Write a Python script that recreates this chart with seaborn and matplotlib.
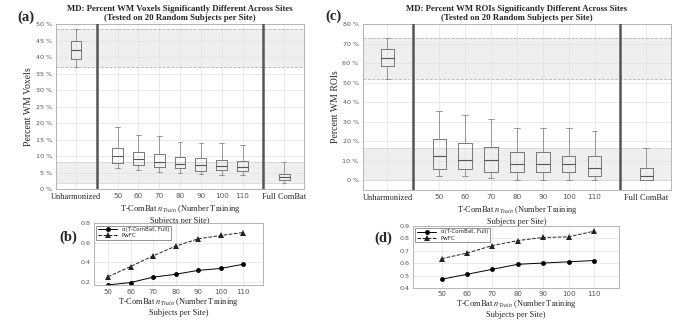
import matplotlib
matplotlib.use('Agg')
import matplotlib.pyplot as plt
import numpy as np
import seaborn as sns

# ---- data ----
groups = ['Unharmonized', '50', '60', '70', '80', '90', '100', '110', 'Full ComBat']
n_train = [50, 60, 70, 80, 90, 100, 110]

# (a) percent WM voxels: whisker low, q1, median, q3, whisker high
vox_lo = [37.0, 6.4, 5.9, 5.2, 4.9, 4.6, 4.4, 4.3, 1.9]
vox_q1 = [39.5, 8.0, 7.4, 6.7, 6.3, 5.6, 5.9, 5.4, 2.8]
vox_med = [42.0, 10.0, 9.1, 8.3, 7.6, 7.4, 7.0, 6.8, 3.6]
vox_q3 = [44.8, 12.4, 11.2, 10.6, 9.6, 9.3, 8.8, 8.4, 4.5]
vox_hi = [48.5, 18.8, 16.3, 16.0, 14.2, 14.0, 13.9, 13.3, 8.1]

# (c) percent WM ROIs
roi_lo = [52.0, 2.0, 2.0, 1.0, 0.0, 0.0, 0.0, 0.0, 0.0]
roi_q1 = [58.5, 6.0, 6.0, 4.0, 4.0, 4.0, 4.0, 2.0, 0.0]
roi_med = [62.5, 12.5, 10.5, 10.5, 8.5, 8.5, 8.5, 6.5, 2.0]
roi_q3 = [67.0, 21.0, 19.0, 17.0, 14.5, 14.5, 12.5, 12.5, 6.3]
roi_hi = [73.0, 35.5, 33.5, 31.5, 27.0, 27.0, 27.0, 25.0, 16.5]

# (b), (d) line panels
alpha_vox = [0.165, 0.19, 0.245, 0.275, 0.315, 0.335, 0.378]
pwfc_vox = [0.25, 0.355, 0.465, 0.565, 0.64, 0.675, 0.705]
alpha_roi = [0.47, 0.51, 0.55, 0.59, 0.60, 0.61, 0.62]
pwfc_roi = [0.635, 0.68, 0.74, 0.78, 0.805, 0.81, 0.855]

sns.set_style('whitegrid')
plt.rcParams['font.family'] = ['DejaVu Sans']
plt.rcParams['mathtext.fontset'] = 'stix'

SERIF = 'Liberation Serif'
TICK_C = '#555555'
GRID_C = '#e2e2e2'
SPINE_C = '#aaaaaa'

fig = plt.figure(figsize=(6.77, 3.2), dpi=100)


def style_axes(ax, pad=1.5):
    ax.grid(True, color=GRID_C, linewidth=0.5)
    for s in ax.spines.values():
        s.set_color(SPINE_C)
        s.set_linewidth(0.6)
    ax.tick_params(axis='both', labelsize=4.6, colors=TICK_C, length=1.5,
                   width=0.4, pad=pad)


def box_panel(ax, lo, q1, med, q3, hi, ylim, yticks, ylabel, title):
    pos = [0] + [2 + i for i in range(len(n_train))] + [10]
    stats = []
    for i in range(len(groups)):
        stats.append(dict(whislo=lo[i], q1=q1[i], med=med[i], q3=q3[i],
                          whishi=hi[i], fliers=[], label=groups[i]))
    # reference bands (unharmonized / full combat whisker ranges)
    ax.axhspan(lo[0], hi[0], color='#efefef', zorder=0.5, lw=0)
    ax.axhspan(lo[-1], hi[-1], color='#efefef', zorder=0.5, lw=0)
    for v in (lo[0], hi[0]):
        ax.axhline(v, color='#b5b5b5', ls='--', lw=0.6, zorder=0.6)
    for v in (lo[-1], hi[-1]):
        ax.axhline(v, color='#cfcfcf', ls='-', lw=0.5, zorder=0.6)
    ax.bxp(stats, positions=pos, widths=0.52, showfliers=False,
           boxprops=dict(color='#777777', linewidth=0.7),
           whiskerprops=dict(color='#888888', linewidth=0.6),
           capprops=dict(color='#888888', linewidth=0.6),
           medianprops=dict(color='#555555', linewidth=0.8),
           capwidths=0.22, manage_ticks=False)
    ax.axvline(1, color='#555555', lw=1.8, zorder=3)
    ax.axvline(9, color='#555555', lw=1.8, zorder=3)
    ax.set_xlim(-0.95, 10.95)
    ax.set_xticks(range(0, 11))
    ax.set_xticklabels([''] * 11)
    ax.set_ylim(*ylim)
    ax.set_yticks(yticks)
    ax.set_yticklabels([f'{t} %' for t in yticks])
    style_axes(ax)
    for p, g in zip(pos, groups):
        if g.isdigit():
            ax.text(p, -0.025, g, transform=ax.get_xaxis_transform(),
                    ha='center', va='top', fontsize=5.2, color=TICK_C)
        else:
            ax.text(p, -0.025, g, transform=ax.get_xaxis_transform(),
                    ha='center', va='top', fontsize=6, family=SERIF)
    ax.text(5, -0.085, 'T-ComBat $n_{Train}$ (Number Training\nSubjects per Site)',
            transform=ax.get_xaxis_transform(), ha='center', va='top',
            fontsize=6, family=SERIF, linespacing=1.25)
    ax.set_ylabel(ylabel, family=SERIF, fontsize=7, labelpad=2)
    ax.set_title(title, family=SERIF, fontsize=6.3, fontweight='bold',
                 pad=3, linespacing=1.2)


def line_panel(ax, alpha_vals, pwfc_vals, xlim, ylim, yticks):
    sns.lineplot(x=n_train, y=alpha_vals, ax=ax, color='black', marker='o',
                 markersize=3.5, linewidth=0.7, markeredgewidth=0,
                 label='α(T-ComBat, Full)')
    sns.lineplot(x=n_train, y=pwfc_vals, ax=ax, color='#222222', marker='^',
                 markersize=3.8, linewidth=0.7, markeredgewidth=0,
                 linestyle='--', label='PwFC')
    ax.set_xlim(*xlim)
    ax.set_ylim(*ylim)
    ax.set_xticks(n_train)
    ax.set_yticks(yticks)
    ax.set_yticklabels([f'{t:g}' for t in yticks])
    style_axes(ax, pad=1)
    ax.tick_params(axis='x', labelsize=5)
    leg = ax.legend(loc='upper left', fontsize=4, frameon=True, fancybox=False,
                    borderpad=0.3, handlelength=3.5, labelspacing=0.2,
                    borderaxespad=0.4)
    leg.get_frame().set_edgecolor('#444444')
    leg.get_frame().set_linewidth(0.5)
    ax.set_xlabel('T-ComBat $n_{Train}$ (Number Training\nSubjects per Site)',
                  family=SERIF, fontsize=6, labelpad=0.5, linespacing=1.15)


ax_a = fig.add_axes([0.083, 0.409, 0.366, 0.516])
box_panel(ax_a, vox_lo, vox_q1, vox_med, vox_q3, vox_hi, (0, 50),
          list(range(0, 51, 5)), 'Percent WM Voxels',
          'MD: Percent WM Voxels Significantly Different Across Sites\n'
          '(Tested on 20 Random Subjects per Site)')

ax_c = fig.add_axes([0.536, 0.406, 0.455, 0.519])
box_panel(ax_c, roi_lo, roi_q1, roi_med, roi_q3, roi_hi, (-5, 80),
          list(range(0, 81, 10)), 'Percent WM ROIs',
          'MD: Percent WM ROIs Significantly Different Across Sites\n'
          '(Tested on 20 Random Subjects per Site)')

ax_b = fig.add_axes([0.139, 0.108, 0.25, 0.194])
line_panel(ax_b, alpha_vox, pwfc_vox, (43.8, 119), (0.16, 0.8),
           [0.2, 0.4, 0.6, 0.8])

ax_d = fig.add_axes([0.61, 0.1, 0.304, 0.195])
line_panel(ax_d, alpha_roi, pwfc_roi, (38.7, 119.8), (0.4, 0.9),
           [0.4, 0.5, 0.6, 0.7, 0.8, 0.9])

for lbl, x, y in [('(a)', 0.025, 0.945), ('(c)', 0.481, 0.948),
                  ('(b)', 0.088, 0.258), ('(d)', 0.553, 0.254)]:
    fig.text(x, y, lbl, family=SERIF, fontsize=10.5, fontweight='bold',
             ha='left', va='center')

fig.savefig('out.png', dpi=100)
